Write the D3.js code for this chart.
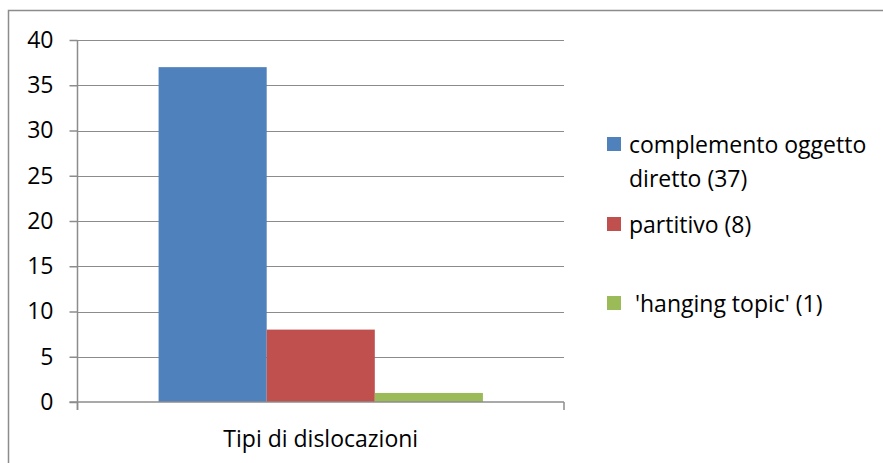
<!DOCTYPE html>
<html>
<head>
<meta charset="utf-8">
<script src="https://cdn.jsdelivr.net/npm/d3@7"></script>
<style>
  body { margin: 0; background: #fff; }
  text { font-family: "Open Sans", Lato, sans-serif; fill: #000; }
</style>
</head>
<body>
<div id="chart-area"></div>
<script>
const category = "Tipi di dislocazioni";
const seriesNames = ["complemento oggetto diretto (37)", "partitivo (8)", " 'hanging topic' (1)"];
const seriesValues = [37, 8, 1];
const seriesColors = ["#4f81bd", "#c0504d", "#9bbb59"];
const yTicks = [0, 5, 10, 15, 20, 25, 30, 35, 40];

const chartSize = { width: 883, height: 463 };
const plot = { left: 77.5, right: 564, top: 40, bottom: 402 };
const fontSize = 23;

const svg = d3.select("#chart-area")
  .append("svg")
  .attr("width", chartSize.width)
  .attr("height", chartSize.height);

// outer chart frame
svg.append("rect")
  .attr("x", 8.5).attr("y", 10.5)
  .attr("width", 900).attr("height", 500)
  .attr("fill", "none")
  .attr("stroke", "#8c8c8c")
  .attr("stroke-width", 1.5);

const y = d3.scaleLinear()
  .domain([0, 40])
  .range([plot.bottom, plot.top]);

const x0 = d3.scaleBand()
  .domain([category])
  .range([plot.left, plot.right])
  .paddingInner(0)
  .paddingOuter(0);

const x1 = d3.scaleBand()
  .domain(seriesNames)
  .range([0, x0.bandwidth()])
  .paddingOuter(0.75)
  .paddingInner(0);

// gridlines
svg.append("g")
  .selectAll("line")
  .data(yTicks.filter(d => d > 0))
  .join("line")
  .attr("x1", plot.left).attr("x2", plot.right)
  .attr("y1", d => Math.round(y(d)) + 0.5)
  .attr("y2", d => Math.round(y(d)) + 0.5)
  .attr("stroke", "#8c8c8c")
  .attr("stroke-width", 1);

// bars
svg.append("g")
  .selectAll("rect")
  .data(seriesValues)
  .join("rect")
  .attr("x", (d, i) => x0(category) + x1(seriesNames[i]))
  .attr("width", x1.bandwidth())
  .attr("y", d => y(d))
  .attr("height", d => y(0) - y(d))
  .attr("fill", (d, i) => seriesColors[i]);

// y axis
const yAxis = d3.axisLeft(y).tickValues(yTicks).tickSize(8).tickPadding(16);
const gy = svg.append("g")
  .attr("transform", `translate(${plot.left},0)`)
  .call(yAxis);
gy.select(".domain").remove();
gy.selectAll(".tick line").attr("stroke", "#8c8c8c").attr("stroke-width", 1.5);
gy.selectAll(".tick text").attr("font-size", fontSize).attr("font-family", "'Open Sans', sans-serif");
gy.append("line")
  .attr("x1", 0).attr("x2", 0)
  .attr("y1", plot.top).attr("y2", plot.bottom + 8)
  .attr("stroke", "#8c8c8c").attr("stroke-width", 1.5);

// x axis
const gx = svg.append("g").attr("transform", `translate(0,${plot.bottom})`);
gx.append("line")
  .attr("x1", plot.left - 8).attr("x2", plot.right)
  .attr("stroke", "#8c8c8c").attr("stroke-width", 1.5);
gx.selectAll(".edge")
  .data([plot.left, plot.right])
  .join("line")
  .attr("x1", d => d).attr("x2", d => d)
  .attr("y1", 0).attr("y2", 8)
  .attr("stroke", "#8c8c8c").attr("stroke-width", 1.5);
gx.append("text")
  .attr("x", x0(category) + x0.bandwidth() / 2)
  .attr("y", 45)
  .attr("text-anchor", "middle")
  .attr("font-size", fontSize)
  .text(category);

// legend
const legendRows = [
  { lines: ["complemento oggetto", "diretto (37)"], top: 137 },
  { lines: ["partitivo (8)"], top: 217 },
  { lines: [" 'hanging topic' (1)"], top: 296 }
];
const legend = svg.append("g");
legendRows.forEach((row, i) => {
  legend.append("rect")
    .attr("x", 607).attr("y", row.top)
    .attr("width", 14).attr("height", 14)
    .attr("fill", seriesColors[i]);
  const t = legend.append("text")
    .attr("x", 629)
    .attr("y", row.top + 16)
    .attr("font-size", fontSize)
    .style("white-space", "pre");
  row.lines.forEach((l, j) => {
    t.append("tspan").attr("x", 629).attr("dy", j === 0 ? 0 : 34).text(l);
  });
});
</script>
</body>
</html>
